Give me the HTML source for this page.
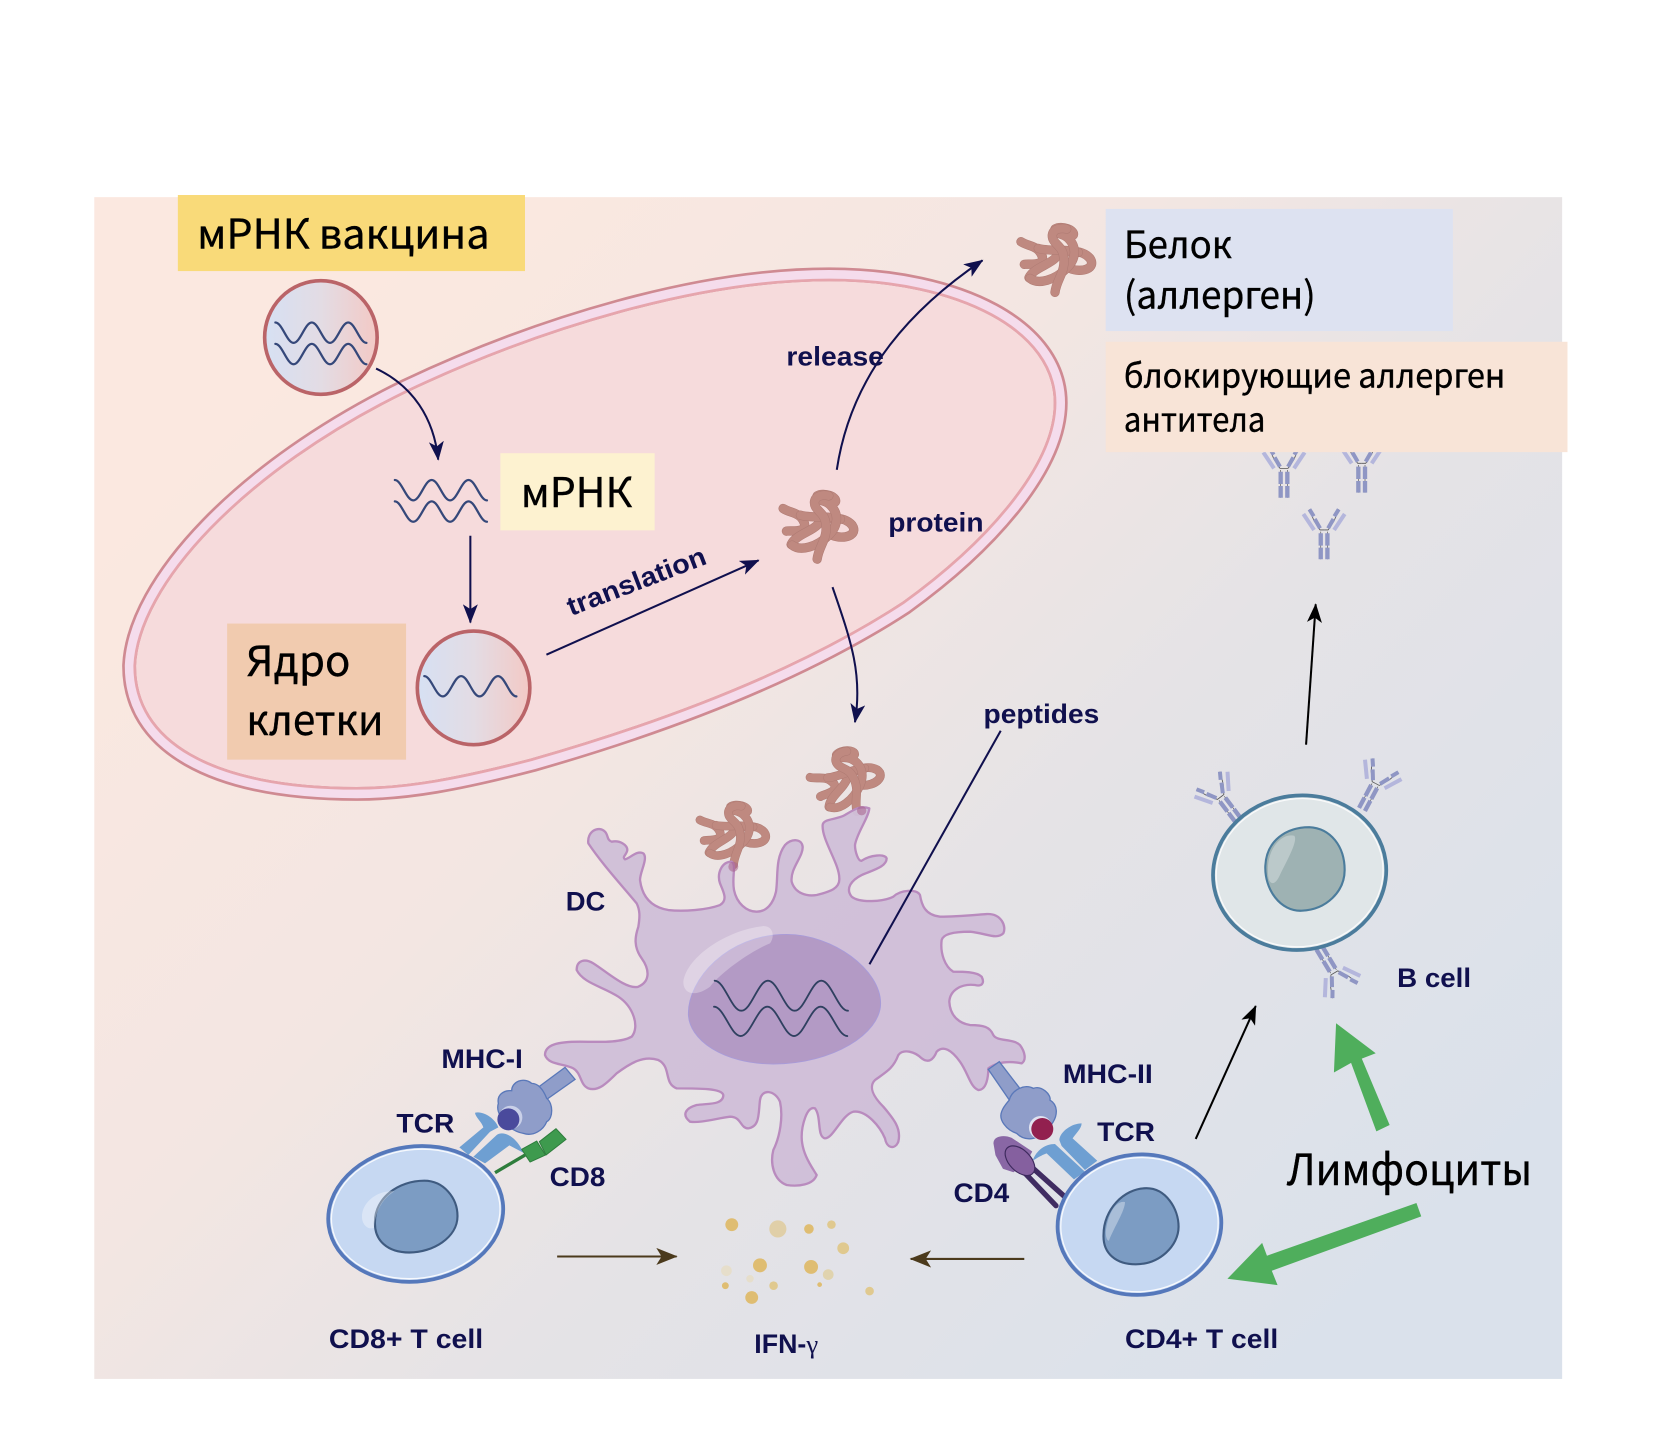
<!DOCTYPE html>
<html lang="ru">
<head>
<meta charset="utf-8">
<title>mRNA vaccine diagram</title>
<style>
html,body{margin:0;padding:0;background:#fff;width:1680px;height:1431px;overflow:hidden}
svg{display:block}
.ru{font-family:"Noto Sans CJK SC","Liberation Sans",sans-serif;fill:#000;stroke:#000;stroke-width:.35px}
.en{font-family:"Liberation Sans",sans-serif;font-weight:700;fill:#10104E;font-size:25px}
.w{fill:none;stroke:#35487A;stroke-width:2.1;stroke-linecap:round}
.pa{fill:none;stroke:#AE7A72;stroke-width:28;stroke-linecap:round;stroke-linejoin:round}
.pb{fill:none;stroke:#BF8980;stroke-width:25;stroke-linecap:round;stroke-linejoin:round}
.ln{fill:none;stroke:#10104E;stroke-width:1.9}
</style>
</head>
<body>
<svg xmlns="http://www.w3.org/2000/svg" width="1680" height="1431" viewBox="0 0 1568 1335.6">
<defs>
<linearGradient id="bg" gradientUnits="userSpaceOnUse" x1="300" y1="300" x2="1250" y2="1250">
<stop offset="0" stop-color="#FBE8E0"/><stop offset=".35" stop-color="#F3E6E2"/><stop offset=".6" stop-color="#E5E3E6"/><stop offset="1" stop-color="#DAE1EB"/>
</linearGradient>
<linearGradient id="cg" x1="0" x2="1" y1="0" y2="0">
<stop offset="0" stop-color="#D6E0F3"/><stop offset=".5" stop-color="#E3DCE4"/><stop offset="1" stop-color="#F3C9C5"/>
</linearGradient>
<marker id="mN" markerUnits="userSpaceOnUse" markerWidth="18" markerHeight="14" refX="17" refY="7" orient="auto"><path d="M18,7 L0,0 L4.5,7 L0,14Z" fill="#10104E"/></marker>
<marker id="mK" markerUnits="userSpaceOnUse" markerWidth="18" markerHeight="14" refX="17" refY="7" orient="auto"><path d="M18,7 L0,0 L4.5,7 L0,14Z" fill="#000"/></marker>
<marker id="mB" markerUnits="userSpaceOnUse" markerWidth="20" markerHeight="16" refX="19" refY="8" orient="auto"><path d="M20,8 L0,0 L5,8 L0,16Z" fill="#4B3A1C"/></marker>
<path id="cp" d="M120.5,621 C124,543 224,435 378,360 C503,301 652,256 774,256 C896,256 990,304 990,376 C990,437 925,510 846,567 C757,625 638,674 498,714 C429,732 380,741 333,741 C196,741 120,696 120.5,621Z"/>
<clipPath id="ci"><use href="#cp"/></clipPath>
<g id="prot">
<path class="pa" d="M48,80 C70,95 100,90 112,125 C118,155 70,145 58,148"/><path class="pb" d="M48,80 C70,95 100,90 112,125 C118,155 70,145 58,148"/>
<path class="pa" d="M72,188 C85,160 130,150 150,130 C170,105 230,100 255,130 C275,160 230,175 195,160"/><path class="pb" d="M72,188 C85,160 130,150 150,130 C170,105 230,100 255,130 C275,160 230,175 195,160"/>
<path class="pa" d="M100,100 C130,110 180,100 220,112"/><path class="pb" d="M100,100 C130,110 180,100 220,112"/>
<path class="pa" d="M75,190 C100,210 150,195 185,160 C215,130 215,95 190,70 C170,50 145,60 150,42 C170,30 210,45 205,60"/><path class="pb" d="M75,190 C100,210 150,195 185,160 C215,130 215,95 190,70 C170,50 145,60 150,42 C170,30 210,45 205,60"/>
<path class="pa" d="M150,232 C155,190 185,170 175,120 C170,90 140,85 142,60 C145,40 170,38 185,42"/><path class="pb" d="M150,232 C155,190 185,170 175,120 C170,90 140,85 142,60 C145,40 170,38 185,42"/>
</g>
<g id="ab" fill="none" stroke-linecap="butt">
<g id="abh">
<path d="M0,-5 L-12,-5 L-30,-32 L-44,-67" stroke="#555" stroke-width="2.5"/>
<path d="M-12,-10 L-28,-38 M-31,-46 L-44,-67" stroke="#8F96C4" stroke-width="12"/>
<path d="M-30,-5 L-62,-53" stroke="#B4B6DC" stroke-width="12"/>
</g>
<use href="#abh" transform="scale(-1,1)"/>
<path d="M-10,0 V83 M10,0 V83" stroke="#555" stroke-width="2"/>
<path d="M-10,5 V42 M10,5 V42 M-10,48 V83 M10,48 V83" stroke="#8F96C4" stroke-width="13"/>
</g>
</defs>

<rect x="88" y="184" width="1370" height="1103" fill="url(#bg)"/>

<!-- big cell -->
<use href="#cp" fill="#F6DBDC" stroke="#CF8A92" stroke-width="13"/>
<g clip-path="url(#ci)"><use href="#cp" fill="none" stroke="#E6A5AD" stroke-width="13"/></g>
<use href="#cp" fill="none" stroke="#F5DCEC" stroke-width="8"/>

<!-- label boxes -->
<rect x="166" y="182" width="324" height="71" fill="#F9DA79"/>
<text class="ru" x="184" y="232" font-size="38" textLength="273" lengthAdjust="spacingAndGlyphs">мРНК вакцина</text>
<rect x="467" y="423" width="144" height="72" fill="#FDF2D0"/>
<text class="ru" x="486" y="473" font-size="38" textLength="104" lengthAdjust="spacingAndGlyphs">мРНК</text>
<rect x="212" y="582" width="167" height="127" fill="#F1CBAF"/>
<text class="ru" x="230" y="631" font-size="39" textLength="97" lengthAdjust="spacingAndGlyphs">Ядро</text>
<text class="ru" x="230" y="686" font-size="39" textLength="128" lengthAdjust="spacingAndGlyphs">клетки</text>

<!-- circles and waves -->
<ellipse cx="299.5" cy="315" rx="52.5" ry="53" fill="url(#cg)" stroke="#BA6468" stroke-width="3.4"/>
<path class="w" d="M257,301 c6.3,0 10.7,19 17,19 s10.7,-19 17,-19 s10.7,19 17,19 s10.7,-19 17,-19 s10.7,19 17,19"/>
<path class="w" d="M257,321 c6.3,0 10.7,19 17,19 s10.7,-19 17,-19 s10.7,19 17,19 s10.7,-19 17,-19 s10.7,19 17,19"/>
<path class="w" d="M368.5,448 c6.3,0 10.7,19 17.2,19 s10.7,-19 17.2,-19 s10.7,19 17.2,19 s10.7,-19 17.2,-19 s10.7,19 17.2,19"/>
<path class="w" d="M368.5,468 c6.3,0 10.7,19 17.2,19 s10.7,-19 17.2,-19 s10.7,19 17.2,19 s10.7,-19 17.2,-19 s10.7,19 17.2,19"/>
<ellipse cx="442" cy="642" rx="52.5" ry="53" fill="url(#cg)" stroke="#BA6468" stroke-width="3.4"/>
<path class="w" d="M396,631 c6.3,0 10.7,19 17.2,19 s10.7,-19 17.2,-19 s10.7,19 17.2,19 s10.7,-19 17.2,-19 s10.7,19 17.2,19"/>

<!-- top-right boxes -->
<rect x="1032" y="195" width="324" height="114" fill="#DDE2F1"/>
<text class="ru" x="1049" y="241" font-size="35" textLength="101" lengthAdjust="spacingAndGlyphs">Белок</text>
<text class="ru" x="1049" y="288" font-size="35" textLength="179" lengthAdjust="spacingAndGlyphs">(аллерген)</text>

<!-- free antibodies -->
<use href="#ab" transform="translate(1198.4 438.7) scale(.3111)"/>
<use href="#ab" transform="translate(1270.9 434) scale(.3111)"/>
<use href="#ab" transform="translate(1235.8 496.2) scale(.3111)"/>
<rect x="1032" y="319" width="431" height="103" fill="#F8E4D7"/>
<text class="ru" x="1049" y="361.5" font-size="31" textLength="356" lengthAdjust="spacingAndGlyphs">блокирующие аллерген</text>
<text class="ru" x="1049" y="402.5" font-size="31" textLength="132" lengthAdjust="spacingAndGlyphs">антитела</text>

<!-- proteins top -->
<use href="#prot" transform="translate(938 200.7) scale(.3111)"/>
<use href="#prot" transform="translate(716 449.7) scale(.3111)"/>

<!-- navy arrows -->
<path class="ln" d="M351,344 C385,360 405,390 409,429" marker-end="url(#mN)"/>
<path class="ln" d="M439,500 V581" marker-end="url(#mN)"/>
<path class="ln" d="M510,611 L708,523" marker-end="url(#mN)"/>
<path class="ln" d="M781,438.5 C795,345 855,285 917,243" marker-end="url(#mN)"/>
<path class="ln" d="M777,548 C795,600 805,630 798,674" marker-end="url(#mN)"/>

<!-- DC group, zoom coords -->
<g transform="translate(504 690.7) scale(.3111)">
<use href="#prot" transform="translate(922 130) rotate(-20) scale(.95) translate(-152 -138)"/>
<use href="#prot" transform="translate(578 288) rotate(-3) scale(.92) translate(-152 -138)"/>
<path fill="#CFBFD8" fill-opacity=".97" stroke="#B98BBE" stroke-width="7" stroke-linejoin="round" d="M145,310 C140,275 175,255 195,275 C205,285 200,300 215,305 C240,300 262,315 262,330 C260,345 245,350 255,358 C270,355 290,330 310,340 C325,355 300,395 300,420 C305,460 325,500 385,510 C430,515 500,510 540,495 C565,480 550,455 540,430 C530,400 545,365 575,365 C590,375 575,410 582,450 C590,490 620,515 650,515 C680,515 700,490 708,455 C715,410 705,355 735,315 C755,295 785,295 788,320 C790,350 750,385 755,425 C765,460 800,470 830,465 C870,455 900,445 898,415 C898,370 845,300 848,255 C850,235 890,240 915,225 C940,210 960,195 988,205 C985,235 950,280 945,315 C945,335 955,365 965,362 C990,345 1035,340 1040,355 C1040,380 1000,390 965,405 C935,420 915,445 935,470 C960,490 1030,485 1060,470 C1080,450 1130,445 1140,465 C1145,495 1155,525 1200,530 C1250,530 1300,525 1340,522 C1385,520 1400,560 1390,580 C1370,600 1340,580 1290,575 C1250,575 1210,580 1205,600 C1200,640 1215,680 1240,695 C1270,695 1310,695 1325,710 C1335,730 1325,740 1305,735 C1265,730 1230,750 1228,785 C1230,830 1260,850 1290,855 C1330,855 1350,860 1360,885 C1370,905 1420,895 1440,915 C1455,935 1460,960 1445,970 C1420,965 1380,960 1345,985 C1345,1010 1340,1050 1315,1050 C1290,1040 1285,1000 1260,965 C1235,930 1210,915 1190,935 C1180,960 1165,970 1145,955 C1125,935 1090,925 1075,945 C1060,985 1040,995 1005,1020 C985,1040 1000,1070 1030,1100 C1060,1135 1085,1165 1075,1205 C1065,1230 1040,1225 1035,1195 C1020,1160 980,1110 940,1115 C905,1125 880,1195 855,1195 C830,1190 845,1130 825,1105 C800,1095 785,1160 785,1190 C785,1240 815,1280 830,1305 C820,1335 775,1340 740,1335 C700,1320 690,1270 700,1230 C720,1190 730,1130 720,1085 C705,1050 665,1045 660,1080 C655,1120 660,1160 625,1165 C600,1165 605,1130 570,1130 C530,1135 480,1150 450,1145 C425,1125 435,1105 470,1095 C505,1090 550,1095 550,1065 C545,1045 480,1045 410,1045 C370,1030 395,980 355,960 C310,945 270,970 230,1000 C200,1030 175,1055 145,1045 C120,1035 125,1000 100,985 C70,970 25,975 15,945 C15,915 50,905 120,905 C170,905 240,910 275,890 C300,860 280,800 235,770 C190,740 130,730 110,690 C110,660 135,655 160,670 C200,695 260,750 295,740 C330,725 330,690 305,655 C280,620 285,590 295,560 C300,530 300,510 290,490 C240,430 185,370 145,310 Z"/>
<circle cx="580" cy="380" r="15" fill="#A8608A" fill-opacity=".55"/>
<circle cx="965" cy="212" r="14" fill="#A8608A" fill-opacity=".55"/>
<path d="M445,820 C445,720 560,583 740,583 C880,583 1022,690 1022,790 C1022,880 880,972 700,972 C550,972 445,900 445,820Z" fill="#B39AC5" stroke="#A79BDB" stroke-width="2.5"/>
<path d="M430,725 C440,650 560,570 670,558 C700,558 705,590 690,610 C640,630 550,690 510,740 C470,770 430,765 430,725Z" fill="#fff" fill-opacity=".3"/>
<path fill="none" stroke="#2F4060" stroke-width="5.5" stroke-linecap="round" d="M524,722 c30,0 50,90 80,90 s50,-90 80,-90 s50,90 80,90 s50,-90 80,-90 s50,90 80,90"/>
<path fill="none" stroke="#2F4060" stroke-width="5.5" stroke-linecap="round" d="M522,800 c30,0 50,88 80,88 s50,-88 80,-88 s50,88 80,88 s50,-88 80,-88 s50,88 80,88"/>
</g>
<path class="ln" d="M934,682 L811.5,900"/>

<!-- B cell -->
<use href="#ab" transform="translate(1140.2 745.1) rotate(-37) scale(.3111)"/>
<use href="#ab" transform="translate(1283.3 732.7) rotate(28) scale(.3111)"/>
<use href="#ab" transform="translate(1244.6 906.7) rotate(149) scale(.3111)"/>
<ellipse cx="1213" cy="814.5" rx="81" ry="72" transform="rotate(-8 1213 814.5)" fill="#E0E6E8" stroke="#4B7C9C" stroke-width="3.5"/>
<ellipse cx="1213" cy="814.5" rx="78" ry="69" transform="rotate(-8 1213 814.5)" fill="none" stroke="#fff" stroke-opacity=".8" stroke-width="1.2"/>
<path d="M1181,808 C1182,785 1200,772 1222,772 C1242,773 1255,790 1255,812 C1255,832 1238,849 1215,850 C1195,851 1180,830 1181,808Z" fill="#9EB2B3" stroke="#4B7C9C" stroke-width="2"/>
<path d="M1184,820 C1180,795 1195,777 1208,780 C1212,785 1200,805 1194,818 C1190,826 1186,826 1184,820Z" fill="#fff" fill-opacity=".3"/>

<!-- MHC-I / TCR / CD8 -->
<g transform="translate(410.7 970.7) scale(.3111)">
<path d="M58,322 L130,262 C125,245 105,230 105,218 C130,212 165,235 175,262 L150,275 L85,345Z" fill="#6E9FD2"/>
<path d="M100,350 L170,285 C190,270 230,290 250,338 L208,316 L135,370Z" fill="#6E9FD2"/>
<path d="M290,145 L375,82 L405,118 L320,178Z" fill="#8F9DC9" stroke="#5A78B9" stroke-width="4"/>
<path d="M175,190 C170,165 190,150 215,152 C215,125 250,110 275,130 C295,130 310,150 320,175 C340,190 340,235 320,245 C310,270 280,290 250,280 C220,275 190,250 190,235 C175,225 170,205 175,190Z" fill="#8F9DC9" stroke="#5A78B9" stroke-width="4"/>
<circle cx="212" cy="232" r="35" fill="#C9D0E8"/>
<circle cx="205" cy="238" r="33" fill="#4A4A9C"/>
<path d="M165,398 L255,345" stroke="#2E7D3C" stroke-width="10" fill="none"/>
<path d="M245,328 L290,303 L316,345 L270,366Z" fill="#3E9A4E" stroke="#2E7D3C" stroke-width="3" stroke-linejoin="round"/>
<path d="M298,305 L348,266 L378,298 L318,345Z" fill="#3E9A4E" stroke="#2E7D3C" stroke-width="3" stroke-linejoin="round"/>
</g>

<!-- MHC-II / CD4 / TCR -->
<g transform="translate(905.3 970.7) scale(.3111)">
<path d="M55,88 L88,65 L152,148 L118,180Z" fill="#8F9DC9" stroke="#5A78B9" stroke-width="4"/>
<path d="M118,180 C125,150 165,130 190,145 C215,135 245,165 240,180 C265,195 262,225 250,245 C235,270 215,290 190,295 C165,300 150,290 140,280 C110,270 85,240 95,215 C100,200 110,190 118,180Z" fill="#8F9DC9" stroke="#5A78B9" stroke-width="4"/>
<circle cx="212" cy="263" r="35" fill="#E0E2F0"/>
<circle cx="217" cy="267" r="33" fill="#92204F"/>
<path d="M188,362 C200,330 225,312 255,312 L345,395 L312,418 L230,340 C215,345 200,355 188,362Z" fill="#6E9FD2"/>
<path d="M335,250 C305,250 270,275 268,300 L275,318 L345,390 L382,362 L308,295 C318,280 335,265 335,250Z" fill="#6E9FD2"/>
<path d="M158,392 L258,497 M178,375 L282,468" stroke="#402C62" stroke-width="16" fill="none" stroke-linecap="round"/>
<path d="M72,310 C72,290 100,285 125,295 L185,335 L165,370 L130,395 L100,385 L78,345Z" fill="#8967A5" stroke="#8967A5" stroke-width="3" stroke-linejoin="round"/>
<ellipse cx="150" cy="362" rx="54" ry="32" transform="rotate(45 150 362)" fill="#85609F" stroke="#3E2A5E" stroke-width="3.5"/>
</g>

<!-- T cells -->
<ellipse cx="388" cy="1133" rx="82" ry="63" transform="rotate(-8 388 1133)" fill="#C6D8F2" stroke="#5578BB" stroke-width="3.5"/>
<ellipse cx="388" cy="1133" rx="79" ry="60" transform="rotate(-8 388 1133)" fill="none" stroke="#fff" stroke-opacity=".85" stroke-width="1.2"/>
<path d="M350,1140 C350,1118 372,1102 396,1102 C414,1102 427,1118 427,1135 C427,1155 404,1169 382,1169 C362,1169 349,1158 350,1140Z" fill="#7C9CC3" stroke="#3F5B80" stroke-width="2"/>
<path d="M338,1138 C336,1122 354,1110 368,1112 C358,1118 350,1130 349,1146 C344,1148 339,1144 338,1138Z" fill="#fff" fill-opacity=".35"/>

<ellipse cx="1063.5" cy="1143" rx="76.5" ry="65.5" transform="rotate(-5 1063.5 1143)" fill="#C6D8F2" stroke="#5578BB" stroke-width="3.5"/>
<ellipse cx="1063.5" cy="1143" rx="73.5" ry="62.5" transform="rotate(-5 1063.5 1143)" fill="none" stroke="#fff" stroke-opacity=".85" stroke-width="1.2"/>
<path d="M1030,1152 C1030,1130 1048,1109 1070,1109 C1088,1109 1100,1128 1100,1145 C1100,1163 1082,1180 1060,1180 C1042,1180 1029,1170 1030,1152Z" fill="#7C9CC3" stroke="#3F5B80" stroke-width="2"/>
<path d="M1032,1150 C1034,1132 1042,1120 1050,1122 C1050,1130 1040,1145 1035,1158 C1033,1158 1032,1154 1032,1150Z" fill="#fff" fill-opacity=".35"/>

<!-- IFN dots -->
<g fill="#DFBD72">
<circle cx="683" cy="1143" r="6"/><circle cx="726" cy="1147" r="8" fill="#E0CFA8"/><circle cx="755" cy="1147" r="4.5"/><circle cx="776" cy="1143" r="4" fill="#E0C98F"/><circle cx="787" cy="1165" r="5.5" fill="#E0C98F"/><circle cx="709.3" cy="1181" r="6.5"/><circle cx="757" cy="1182.5" r="6.5"/><circle cx="773" cy="1189.6" r="5" fill="#E0D3AE"/><circle cx="678" cy="1186" r="5" fill="#E6DECB"/><circle cx="700" cy="1193.5" r="3.5" fill="#E6DECB"/><circle cx="722" cy="1200" r="4" fill="#E0C98F"/><circle cx="677" cy="1200" r="3.2"/><circle cx="765" cy="1199" r="2.2"/><circle cx="701.6" cy="1211" r="6"/><circle cx="811.6" cy="1205" r="4" fill="#E0C98F"/>
</g>

<!-- black & brown arrows -->
<path d="M1219,695 L1228,564" stroke="#000" stroke-width="1.9" fill="none" marker-end="url(#mK)"/>
<path d="M1116,1063 L1172,939" stroke="#000" stroke-width="1.9" fill="none" marker-end="url(#mK)"/>
<path d="M520,1172.7 H631.5" stroke="#4B3A1C" stroke-width="1.9" fill="none" marker-end="url(#mB)"/>
<path d="M956,1175 H850" stroke="#4B3A1C" stroke-width="1.9" fill="none" marker-end="url(#mB)"/>

<!-- green arrows -->
<polygon points="1247,955 1284,983 1271,988 1297,1050 1284.6,1056 1261,992 1245,1001" fill="#4FAE5C"/>
<polygon points="1145.6,1193.5 1178,1160 1182.5,1172 1322,1122.8 1326.5,1135.3 1187,1186 1192.4,1199.4" fill="#4FAE5C"/>
<text class="ru" x="1201" y="1106" font-size="40" textLength="229" lengthAdjust="spacingAndGlyphs">Лимфоциты</text>

<!-- english labels -->
<text class="en" x="734" y="341" textLength="91" lengthAdjust="spacingAndGlyphs">release</text>
<text class="en" x="829" y="496" textLength="89" lengthAdjust="spacingAndGlyphs">protein</text>
<text class="en" x="918" y="675" textLength="108" lengthAdjust="spacingAndGlyphs">peptides</text>
<text class="en" transform="translate(533 575) rotate(-21)" textLength="137" lengthAdjust="spacingAndGlyphs">translation</text>
<text class="en" x="528" y="850" textLength="37" lengthAdjust="spacingAndGlyphs">DC</text>
<text class="en" x="412" y="997" textLength="76" lengthAdjust="spacingAndGlyphs">MHC-I</text>
<text class="en" x="370" y="1057" textLength="54" lengthAdjust="spacingAndGlyphs">TCR</text>
<text class="en" x="513" y="1107" textLength="52" lengthAdjust="spacingAndGlyphs">CD8</text>
<text class="en" x="307" y="1258" textLength="144" lengthAdjust="spacingAndGlyphs">CD8+ T cell</text>
<text class="en" x="704" y="1263">IFN-<tspan font-family="'Liberation Serif',serif" font-weight="400">γ</tspan></text>
<text class="en" x="890" y="1122" textLength="52" lengthAdjust="spacingAndGlyphs">CD4</text>
<text class="en" x="992" y="1011" textLength="84" lengthAdjust="spacingAndGlyphs">MHC-II</text>
<text class="en" x="1024" y="1065" textLength="54" lengthAdjust="spacingAndGlyphs">TCR</text>
<text class="en" x="1050" y="1258" textLength="143" lengthAdjust="spacingAndGlyphs">CD4+ T cell</text>
<text class="en" x="1304" y="921" textLength="69" lengthAdjust="spacingAndGlyphs">B cell</text>
</svg>
</body>
</html>
